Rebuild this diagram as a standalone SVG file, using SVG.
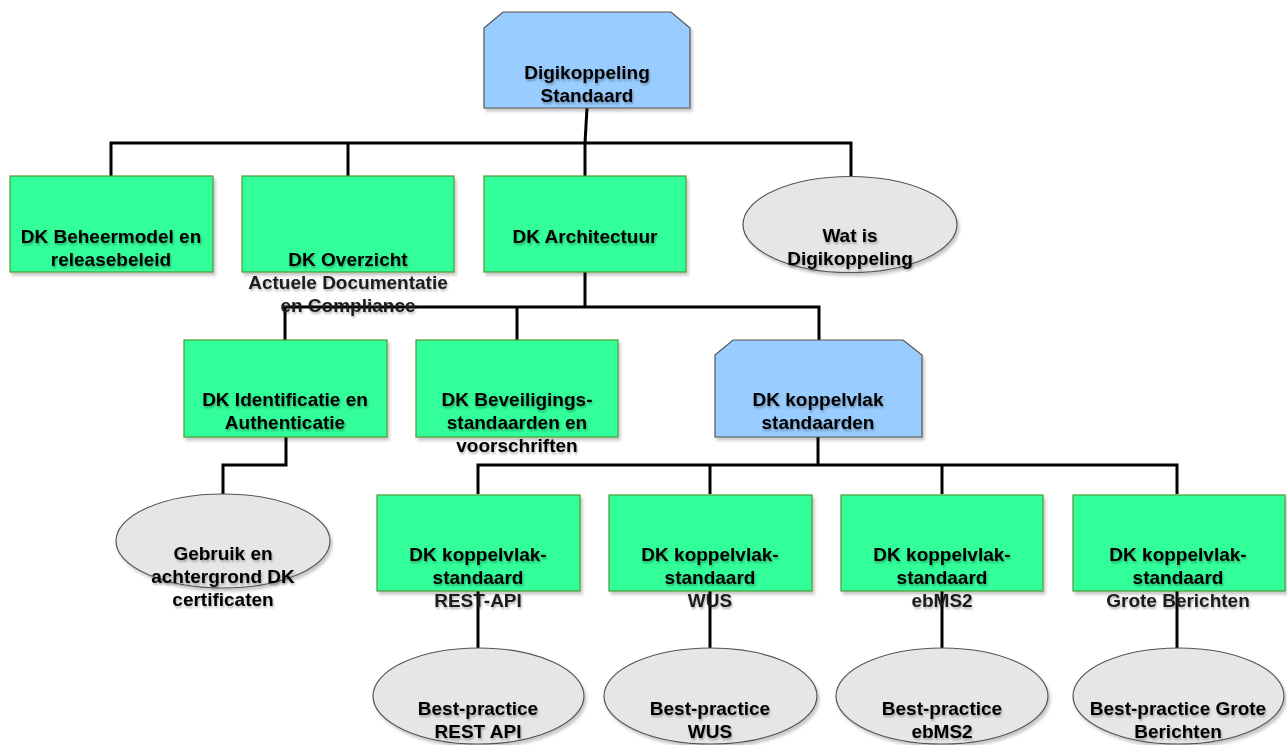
<svg xmlns="http://www.w3.org/2000/svg" width="1287" height="745" viewBox="0 0 1287 745">
<style>
.g{fill:#33ff99;stroke:#4c9a33;stroke-width:1.2}
.b{fill:#99ccff;stroke:#555;stroke-width:1.2}
.e{fill:#e6e6e6;stroke:#555;stroke-width:1.2}
.t{font-family:"Liberation Sans",Arial,sans-serif;font-size:19px;font-weight:bold;fill:#000;text-anchor:middle}
.s{font-family:"Liberation Sans",Arial,sans-serif;font-size:19px;font-weight:bold;fill:#1c1c1c;text-anchor:middle}
.c{fill:none;stroke:#000;stroke-width:3}
</style>
<defs>
<filter id="sh" x="-10%" y="-10%" width="120%" height="130%">
<feDropShadow dx="2" dy="3" stdDeviation="1.5" flood-color="#000" flood-opacity="0.22"/>
</filter>
<filter id="ts" x="-10%" y="-30%" width="120%" height="160%">
<feDropShadow dx="1" dy="2" stdDeviation="1.2" flood-color="#000" flood-opacity="0.3"/>
</filter>
</defs>
<g id="connectors">
<polyline class="c" points="587,108 585,143"/>
<polyline class="c" points="111,176 111,143 851,143 851,177"/>
<polyline class="c" points="348,143 348,176"/>
<polyline class="c" points="585,143 585,176"/>
<polyline class="c" points="585,272 585,307"/>
<polyline class="c" points="285,340 285,307 819,307 819,340"/>
<polyline class="c" points="517,307 517,340"/>
<polyline class="c" points="286,437 286,465 223,465 223,494"/>
<polyline class="c" points="818,437 818,465"/>
<polyline class="c" points="478,494 478,465 1177,465 1177,494"/>
<polyline class="c" points="710,465 710,494"/>
<polyline class="c" points="942,465 942,494"/>
<polyline class="c" points="478,591 478,648"/>
<polyline class="c" points="710,591 710,648"/>
<polyline class="c" points="942,591 942,648"/>
<polyline class="c" points="1177,591 1177,648"/>
</g>
<g id="n-digikoppeling">
<polygon class="b" filter="url(#sh)" points="503,12 671,12 690,28 690,108 484,108 484,28"/>
<text class="t" filter="url(#ts)" x="587" y="79">Digikoppeling</text>
<text class="t" filter="url(#ts)" x="587" y="102">Standaard</text>
</g>
<g id="n-beheermodel">
<rect class="g" filter="url(#sh)" x="10" y="176" width="203" height="96"/>
<text class="t" filter="url(#ts)" x="111" y="243">DK Beheermodel en</text>
<text class="t" filter="url(#ts)" x="111" y="266">releasebeleid</text>
</g>
<g id="n-overzicht">
<rect class="g" filter="url(#sh)" x="242" y="176" width="212" height="96"/>
<text class="t" filter="url(#ts)" x="348" y="266">DK Overzicht</text>
<text class="s" filter="url(#ts)" x="348" y="289">Actuele Documentatie</text>
<text class="s" filter="url(#ts)" x="348" y="312">en Compliance</text>
</g>
<g id="n-architectuur">
<rect class="g" filter="url(#sh)" x="484" y="176" width="202" height="96"/>
<text class="t" filter="url(#ts)" x="585" y="243">DK Architectuur</text>
</g>
<g id="n-watis">
<ellipse class="e" filter="url(#sh)" cx="850" cy="224.5" rx="107" ry="48"/>
<text class="t" filter="url(#ts)" x="850" y="242">Wat is</text>
<text class="t" filter="url(#ts)" x="850" y="265">Digikoppeling</text>
</g>
<g id="n-identificatie">
<rect class="g" filter="url(#sh)" x="184" y="340" width="203" height="97"/>
<text class="t" filter="url(#ts)" x="285" y="406">DK Identificatie en</text>
<text class="t" filter="url(#ts)" x="285" y="429">Authenticatie</text>
</g>
<g id="n-beveiliging">
<rect class="g" filter="url(#sh)" x="416" y="340" width="202" height="97"/>
<text class="t" filter="url(#ts)" x="517" y="406">DK Beveiligings-</text>
<text class="t" filter="url(#ts)" x="517" y="429">standaarden en</text>
<text class="t" filter="url(#ts)" x="517" y="452">voorschriften</text>
</g>
<g id="n-koppelvlakstandaarden">
<polygon class="b" filter="url(#sh)" points="733,340 903,340 922,355 922,437 715,437 715,355"/>
<text class="t" filter="url(#ts)" x="818" y="406">DK koppelvlak</text>
<text class="t" filter="url(#ts)" x="818" y="429">standaarden</text>
</g>
<g id="n-gebruik">
<ellipse class="e" filter="url(#sh)" cx="223" cy="541" rx="107" ry="47"/>
<text class="t" filter="url(#ts)" x="223" y="560">Gebruik en</text>
<text class="t" filter="url(#ts)" x="223" y="583">achtergrond DK</text>
<text class="t" filter="url(#ts)" x="223" y="606">certificaten</text>
</g>
<g id="n-rest">
<rect class="g" filter="url(#sh)" x="377" y="495" width="203" height="96"/>
<text class="t" filter="url(#ts)" x="478" y="561">DK koppelvlak-</text>
<text class="t" filter="url(#ts)" x="478" y="584">standaard</text>
<text class="s" filter="url(#ts)" x="478" y="607">REST-API</text>
</g>
<g id="n-wus">
<rect class="g" filter="url(#sh)" x="609" y="495" width="203" height="96"/>
<text class="t" filter="url(#ts)" x="710" y="561">DK koppelvlak-</text>
<text class="t" filter="url(#ts)" x="710" y="584">standaard</text>
<text class="s" filter="url(#ts)" x="710" y="607">WUS</text>
</g>
<g id="n-ebms2">
<rect class="g" filter="url(#sh)" x="841" y="495" width="202" height="96"/>
<text class="t" filter="url(#ts)" x="942" y="561">DK koppelvlak-</text>
<text class="t" filter="url(#ts)" x="942" y="584">standaard</text>
<text class="s" filter="url(#ts)" x="942" y="607">ebMS2</text>
</g>
<g id="n-grote">
<rect class="g" filter="url(#sh)" x="1073" y="495" width="212" height="96"/>
<text class="t" filter="url(#ts)" x="1178" y="561">DK koppelvlak-</text>
<text class="t" filter="url(#ts)" x="1178" y="584">standaard</text>
<text class="s" filter="url(#ts)" x="1178" y="607">Grote Berichten</text>
</g>
<g id="n-bp-rest">
<ellipse class="e" filter="url(#sh)" cx="478.5" cy="696" rx="105.5" ry="48"/>
<text class="t" filter="url(#ts)" x="478" y="715">Best-practice</text>
<text class="t" filter="url(#ts)" x="478" y="738">REST API</text>
</g>
<g id="n-bp-wus">
<ellipse class="e" filter="url(#sh)" cx="710.5" cy="696" rx="106.5" ry="48"/>
<text class="t" filter="url(#ts)" x="710" y="715">Best-practice</text>
<text class="t" filter="url(#ts)" x="710" y="738">WUS</text>
</g>
<g id="n-bp-ebms2">
<ellipse class="e" filter="url(#sh)" cx="942" cy="696" rx="106" ry="48"/>
<text class="t" filter="url(#ts)" x="942" y="715">Best-practice</text>
<text class="t" filter="url(#ts)" x="942" y="738">ebMS2</text>
</g>
<g id="n-bp-grote">
<ellipse class="e" filter="url(#sh)" cx="1178.5" cy="696" rx="105.5" ry="48"/>
<text class="t" filter="url(#ts)" x="1178" y="715">Best-practice Grote</text>
<text class="t" filter="url(#ts)" x="1178" y="738">Berichten</text>
</g>
</svg>
